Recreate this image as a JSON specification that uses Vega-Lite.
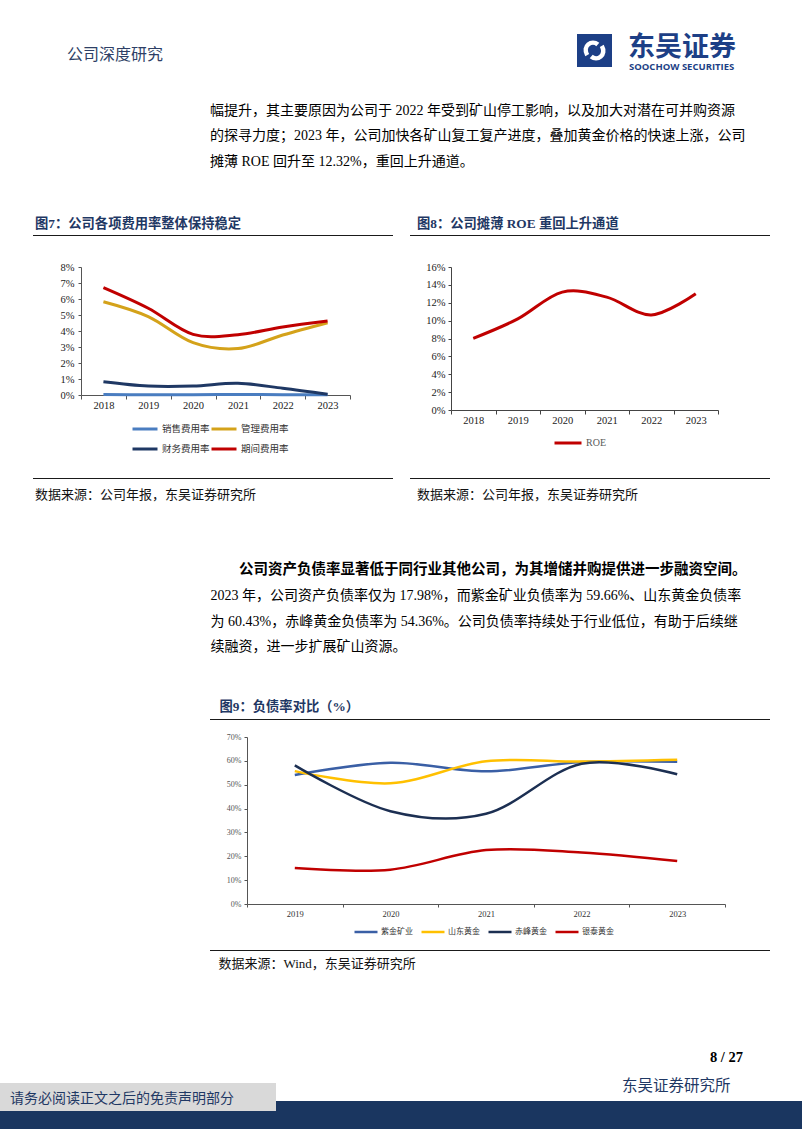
{
"$schema": "https://vega.github.io/schema/vega-lite/v6.json",
"padding": 0,
"autosize": {"type": "pad"},
"background": "white",
"data": {"values": []},
"datasets": {
 "fig7": [
  {"year":"2018","series":"销售费用率","value":0.0003},{"year":"2019","series":"销售费用率","value":0.0002},{"year":"2020","series":"销售费用率","value":0.0002},{"year":"2021","series":"销售费用率","value":0.0003},{"year":"2022","series":"销售费用率","value":0.0002},{"year":"2023","series":"销售费用率","value":0.0002},
  {"year":"2018","series":"管理费用率","value":0.0583},{"year":"2019","series":"管理费用率","value":0.0490},{"year":"2020","series":"管理费用率","value":0.0327},{"year":"2021","series":"管理费用率","value":0.0290},{"year":"2022","series":"管理费用率","value":0.0375},{"year":"2023","series":"管理费用率","value":0.0452},
  {"year":"2018","series":"财务费用率","value":0.0083},{"year":"2019","series":"财务费用率","value":0.0056},{"year":"2020","series":"财务费用率","value":0.0056},{"year":"2021","series":"财务费用率","value":0.0073},{"year":"2022","series":"财务费用率","value":0.0042},{"year":"2023","series":"财务费用率","value":0.0004},
  {"year":"2018","series":"期间费用率","value":0.0671},{"year":"2019","series":"期间费用率","value":0.0542},{"year":"2020","series":"期间费用率","value":0.0379},{"year":"2021","series":"期间费用率","value":0.0377},{"year":"2022","series":"期间费用率","value":0.0425},{"year":"2023","series":"期间费用率","value":0.0462}
 ],
 "fig8": [
  {"year":"2018","series":"ROE","value":0.0802},{"year":"2019","series":"ROE","value":0.1019},{"year":"2020","series":"ROE","value":0.1319},{"year":"2021","series":"ROE","value":0.1263},{"year":"2022","series":"ROE","value":0.1064},{"year":"2023","series":"ROE","value":0.1300}
 ],
 "fig9": [
  {"year":"2019","series":"紫金矿业","value":0.541},{"year":"2020","series":"紫金矿业","value":0.592},{"year":"2021","series":"紫金矿业","value":0.556},{"year":"2022","series":"紫金矿业","value":0.595},{"year":"2023","series":"紫金矿业","value":0.5966},
  {"year":"2019","series":"山东黄金","value":0.557},{"year":"2020","series":"山东黄金","value":0.506},{"year":"2021","series":"山东黄金","value":0.598},{"year":"2022","series":"山东黄金","value":0.597},{"year":"2023","series":"山东黄金","value":0.6043},
  {"year":"2019","series":"赤峰黄金","value":0.581},{"year":"2020","series":"赤峰黄金","value":0.389},{"year":"2021","series":"赤峰黄金","value":0.378},{"year":"2022","series":"赤峰黄金","value":0.588},{"year":"2023","series":"赤峰黄金","value":0.5436},
  {"year":"2019","series":"银泰黄金","value":0.151},{"year":"2020","series":"银泰黄金","value":0.144},{"year":"2021","series":"银泰黄金","value":0.226},{"year":"2022","series":"银泰黄金","value":0.216},{"year":"2023","series":"银泰黄金","value":0.1798}
 ]
},
"config": {"view": {"stroke": null}},
"spacing": 0,
"resolve": {"scale": {"color": "independent"}, "legend": {"color": "independent"}},
"vconcat": [
 {"width":802,"height":33,"mark":"point"},
 {"hconcat":[
   {"width":577,"height":40,"mark":"point","title":{"text":"公司深度研究","orient":"bottom","anchor":"start","frame":"group","offset":0,"baseline":"top","dx":67,"dy":-26.7,"font":"Noto Sans CJK SC","fontSize":16,"fontWeight":"normal","color":"#2e3f66"}},
   {"width":35,"height":33,"data":{"values":[{}]},"mark":{"type":"point","shape":"M -0.55 0.35 C -0.95 -0.35 -0.2 -0.85 0.25 -0.45 M 0.55 -0.35 C 0.95 0.35 0.2 0.85 -0.25 0.45","size":700,"filled":false,"stroke":"white","strokeWidth":4.5,"opacity":1},"view":{"fill":"#1d3f86","stroke":null}},
   {"width":187,"height":40,"mark":"point","title":{"text":"东吴证券","orient":"bottom","anchor":"start","frame":"group","offset":0,"baseline":"top","dx":16,"dy":-39.5,"font":"Noto Sans CJK SC","fontSize":27,"fontWeight":"bold","color":"#1d3f86"}},
   {"width":3,"height":40,"mark":"point","title":{"text":"SOOCHOW SECURITIES","orient":"bottom","anchor":"start","frame":"group","offset":0,"baseline":"top","dx":-170,"dy":-12.3,"font":"Open Sans","fontSize":9.5,"fontWeight":"bold","color":"#1d3f86"}}
  ],"spacing":0,"bounds":"flush"},
 {"hconcat":[
   {"width":200,"height":161,"mark":"point","title":{"text":"图7：公司各项费用率整体保持稳定","orient":"bottom","anchor":"start","frame":"group","offset":0,"baseline":"top","dx":35,"dy":-17.9,"font":"Liberation Serif, Noto Sans CJK SC","fontSize":13.3,"fontWeight":"bold","color":"#1f3864"}},
   {"width":200,"height":161,"mark":"point","title":{"text":["幅提升，其主要原因为公司于 2022 年受到矿山停工影响，以及加大对潜在可并购资源","的探寻力度；2023 年，公司加快各矿山复工复产进度，叠加黄金价格的快速上涨，公司","摊薄 ROE 回升至 12.32%，重回上升通道。"],"orient":"bottom","anchor":"start","frame":"group","offset":0,"baseline":"top","dx":10,"dy":-131.4,"font":"Liberation Serif, Noto Sans CJK SC","fontSize":14,"fontWeight":"normal","color":"#000000","lineHeight":25.5}},
   {"width":402,"height":161,"mark":"point","title":{"text":"图8：公司摊薄 ROE 重回上升通道","orient":"bottom","anchor":"start","frame":"group","offset":0,"baseline":"top","dx":17,"dy":-17.9,"font":"Liberation Serif, Noto Sans CJK SC","fontSize":13.3,"fontWeight":"bold","color":"#1f3864"}}
  ],"spacing":0,"bounds":"flush"},
 {"hconcat":[
   {"width":33,"height":1,"mark":"point"},
   {"width":360,"height":1,"mark":"point","view":{"fill":"#1a1a1a","stroke":null}},
   {"width":17,"height":1,"mark":"point"},
   {"width":360,"height":1,"mark":"point","view":{"fill":"#1a1a1a","stroke":null}},
   {"width":32,"height":1,"mark":"point"}
  ],"spacing":0,"bounds":"flush"},
 {"width":802,"height":26,"mark":"point"},
 {"hconcat":[
   {"width":81,"height":211,"mark":"point"},
   {"width":269,"height":128,"data":{"name":"fig7"},
    "mark":{"type":"line","interpolate":"cardinal","strokeWidth":3},
    "encoding":{
     "x":{"field":"year","type":"ordinal","bandPosition":0.5,"scale":{"type":"band","paddingInner":0,"paddingOuter":0},
          "axis":{"title":null,"tickBand":"extent","labelAngle":0,"labelFont":"Liberation Serif","labelFontSize":10.5,"labelColor":"#222222","labelPadding":1,"tickSize":4,"tickColor":"#555555","domainColor":"#555555","grid":false}},
     "y":{"field":"value","type":"quantitative","scale":{"domain":[0,0.08],"nice":false},
          "axis":{"title":null,"values":[0,0.01,0.02,0.03,0.04,0.05,0.06,0.07,0.08],"format":".0%","labelFont":"Liberation Serif","labelFontSize":10.5,"labelColor":"#222222","tickSize":3,"labelPadding":4,"tickColor":"#555555","domainColor":"#555555","grid":false,"labelOverlap":false,"labelFlush":false}},
     "color":{"field":"series","type":"nominal","scale":{"domain":["销售费用率","财务费用率","管理费用率","期间费用率"],"range":["#4a7dc0","#1f3864","#d4a21a","#c00000"]},
          "legend":{"orient":"none","legendX":50,"legendY":148,"columns":2,"title":null,"symbolType":"stroke","symbolSize":625,"symbolStrokeWidth":3,"labelFont":"Noto Sans CJK SC","labelFontSize":9.5,"labelColor":"#333333","labelOffset":3,"columnPadding":-8,"rowPadding":-12,"padding":0}}
    }},
   {"width":101,"height":211,"mark":"point"},
   {"width":267,"height":143,"data":{"name":"fig8"},
    "mark":{"type":"line","interpolate":"cardinal","strokeWidth":3},
    "encoding":{
     "x":{"field":"year","type":"ordinal","bandPosition":0.5,"scale":{"type":"band","paddingInner":0,"paddingOuter":0},
          "axis":{"title":null,"tickBand":"extent","labelAngle":0,"labelFont":"Liberation Serif","labelFontSize":10.5,"labelColor":"#222222","labelPadding":1,"tickSize":4,"tickColor":"#444444","domainColor":"#444444","grid":false}},
     "y":{"field":"value","type":"quantitative","scale":{"domain":[0,0.16],"nice":false},
          "axis":{"title":null,"values":[0,0.02,0.04,0.06,0.08,0.1,0.12,0.14,0.16],"format":".0%","labelFont":"Liberation Serif","labelFontSize":10.5,"labelColor":"#222222","tickSize":3,"labelPadding":3,"tickColor":"#444444","domainColor":"#444444","grid":false,"labelOverlap":false,"labelFlush":false}},
     "color":{"field":"series","type":"nominal","scale":{"domain":["ROE"],"range":["#c00000"]},
          "legend":{"orient":"none","legendX":102,"legendY":161,"title":null,"symbolType":"stroke","symbolSize":729,"symbolStrokeWidth":3,"labelFont":"Liberation Serif","labelFontSize":10,"labelColor":"#595959","labelOffset":3,"padding":0}}
    }},
   {"width":84,"height":211,"mark":"point"}
  ],"spacing":0,"bounds":"flush","resolve":{"scale":{"color":"independent"},"legend":{"color":"independent"}}},
 {"hconcat":[
   {"width":33,"height":1,"mark":"point"},
   {"width":360,"height":1,"mark":"point","view":{"fill":"#1a1a1a","stroke":null}},
   {"width":17,"height":1,"mark":"point"},
   {"width":360,"height":1,"mark":"point","view":{"fill":"#1a1a1a","stroke":null}},
   {"width":32,"height":1,"mark":"point"}
  ],"spacing":0,"bounds":"flush"},
 {"hconcat":[
   {"width":35,"height":240,"mark":"point","title":{"text":"数据来源：公司年报，东吴证券研究所","orient":"bottom","anchor":"start","frame":"group","offset":0,"baseline":"top","dx":35,"dy":-230.2,"font":"Liberation Serif, Noto Sans CJK SC","fontSize":13,"fontWeight":"normal","color":"#111111"}},
   {"width":175,"height":240,"mark":"point","title":{"text":["2023 年，公司资产负债率仅为 17.98%，而紫金矿业负债率为 59.66%、山东黄金负债率","为 60.43%，赤峰黄金负债率为 54.36%。公司负债率持续处于行业低位，有助于后续继","续融资，进一步扩展矿山资源。"],"orient":"bottom","anchor":"start","frame":"group","offset":0,"baseline":"top","dx":175.5,"dy":-129.6,"font":"Liberation Serif, Noto Sans CJK SC","fontSize":14,"fontWeight":"normal","color":"#000000","lineHeight":25.4}},
   {"width":29,"height":240,"mark":"point","title":{"text":"图9：负债率对比（%）","orient":"bottom","anchor":"start","frame":"group","offset":0,"baseline":"top","dx":9.5,"dy":-18.6,"font":"Liberation Serif, Noto Sans CJK SC","fontSize":13.3,"fontWeight":"bold","color":"#1f3864"}},
   {"width":178,"height":240,"mark":"point","title":{"text":"公司资产负债率显著低于同行业其他公司，为其增储并购提供进一步融资空间。","orient":"bottom","anchor":"start","frame":"group","offset":0,"baseline":"top","dx":0,"dy":-156.3,"font":"Liberation Serif, Noto Sans CJK SC","fontSize":14.5,"fontWeight":"bold","color":"#000000"}},
   {"width":385,"height":240,"mark":"point","title":{"text":"数据来源：公司年报，东吴证券研究所","orient":"bottom","anchor":"start","frame":"group","offset":0,"baseline":"top","dx":0,"dy":-230.2,"font":"Liberation Serif, Noto Sans CJK SC","fontSize":13,"fontWeight":"normal","color":"#111111"}}
  ],"spacing":0,"bounds":"flush"},
 {"hconcat":[
   {"width":210,"height":1,"mark":"point"},
   {"width":560,"height":1,"mark":"point","view":{"fill":"#1a1a1a","stroke":null}},
   {"width":32,"height":1,"mark":"point"}
  ],"spacing":0,"bounds":"flush"},
 {"width":802,"height":13,"mark":"point"},
 {"hconcat":[
   {"width":247,"height":213,"mark":"point"},
   {"width":478,"height":167,"data":{"name":"fig9"},
    "mark":{"type":"line","interpolate":"cardinal","strokeWidth":2.5},
    "encoding":{
     "x":{"field":"year","type":"ordinal","bandPosition":0.5,"scale":{"type":"band","paddingInner":0,"paddingOuter":0},
          "axis":{"title":null,"tickBand":"extent","labelAngle":0,"labelFont":"Liberation Serif","labelFontSize":8.5,"labelColor":"#333333","labelPadding":2,"tickSize":3,"tickColor":"#555555","domainColor":"#555555","grid":false}},
     "y":{"field":"value","type":"quantitative","scale":{"domain":[0,0.7],"nice":false},
          "axis":{"title":null,"values":[0,0.1,0.2,0.3,0.4,0.5,0.6,0.7],"format":".0%","labelFont":"Liberation Serif","labelFontSize":8,"labelColor":"#555555","tickSize":3,"labelPadding":3,"tickColor":"#555555","domainColor":"#555555","grid":false,"labelOverlap":false,"labelFlush":false}},
     "color":{"field":"series","type":"nominal","scale":{"domain":["紫金矿业","山东黄金","赤峰黄金","银泰黄金"],"range":["#3a5fa5","#ffc000","#1c2f52","#c00000"]},
          "legend":{"orient":"none","direction":"horizontal","columns":4,"legendX":106,"legendY":182,"title":null,"symbolType":"stroke","symbolSize":529,"symbolStrokeWidth":2.5,"labelFont":"Noto Sans CJK SC","labelFontSize":8,"labelColor":"#333333","labelOffset":2,"columnPadding":3,"padding":0}}
    }},
   {"width":77,"height":213,"mark":"point"}
  ],"spacing":0,"bounds":"flush","resolve":{"scale":{"color":"independent"},"legend":{"color":"independent"}}},
 {"hconcat":[
   {"width":210,"height":1,"mark":"point"},
   {"width":560,"height":1,"mark":"point","view":{"fill":"#1a1a1a","stroke":null}},
   {"width":32,"height":1,"mark":"point"}
  ],"spacing":0,"bounds":"flush"},
 {"hconcat":[
   {"width":400,"height":126,"mark":"point","title":{"text":"数据来源：Wind，东吴证券研究所","orient":"bottom","anchor":"start","frame":"group","offset":0,"baseline":"top","dx":218.5,"dy":-118.8,"font":"Liberation Serif, Noto Sans CJK SC","fontSize":13,"fontWeight":"normal","color":"#111111"}},
   {"width":402,"height":126,"mark":"point","title":{"text":"8 / 27","orient":"bottom","anchor":"end","frame":"group","offset":0,"baseline":"top","dx":-59,"dy":-25.7,"font":"Liberation Serif","fontSize":14.5,"fontWeight":"bold","color":"#000000"}}
  ],"spacing":0,"bounds":"flush"},
 {"hconcat":[
   {"vconcat":[
     {"width":276,"height":6,"mark":"point"},
     {"width":276,"height":28,"mark":"point","view":{"fill":"#d9d9d9","stroke":null},"title":{"text":"请务必阅读正文之后的免责声明部分","orient":"bottom","anchor":"start","frame":"group","offset":0,"baseline":"top","dx":10,"dy":-18.9,"font":"Noto Sans CJK SC","fontSize":14,"fontWeight":"normal","color":"#1f3864"}},
     {"width":276,"height":18,"mark":"point","view":{"fill":"#1a3660","stroke":null}}
    ],"spacing":0},
   {"vconcat":[
     {"width":526,"height":24,"mark":"point","title":{"text":"东吴证券研究所","orient":"bottom","anchor":"start","frame":"group","offset":0,"baseline":"top","dx":346,"dy":-22.5,"font":"Noto Sans CJK SC","fontSize":15.5,"fontWeight":"normal","color":"#1f3864"}},
     {"width":526,"height":28,"mark":"point","view":{"fill":"#1a3660","stroke":null}}
    ],"spacing":0}
  ],"spacing":0}
]
}
